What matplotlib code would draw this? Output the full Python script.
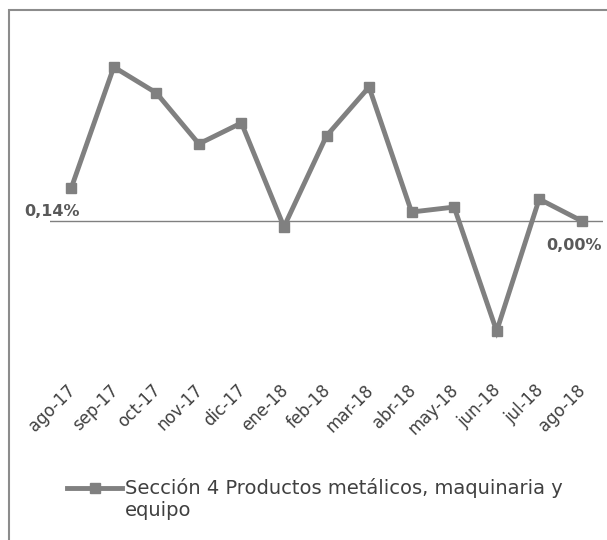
import matplotlib
matplotlib.use('Agg')
import matplotlib.pyplot as plt
from matplotlib.lines import Line2D
from matplotlib.patches import Rectangle
from matplotlib.transforms import ScaledTranslation

months = ["ago-17", "sep-17", "oct-17", "nov-17", "dic-17", "ene-18", "feb-18",
          "mar-18", "abr-18", "may-18", "jun-18", "jul-18", "ago-18"]
values = [0.14, 0.653, 0.543, 0.327, 0.416, -0.025, 0.361,
          0.568, 0.038, 0.059, -0.467, 0.093, 0.00]
series_lines = ["Sección 4 Productos metálicos, maquinaria y", "equipo"]

GREY = '#808080'
TEXT = '#404040'
plt.rcParams['font.family'] = ['DejaVu Sans']

fig = plt.figure(figsize=(6.07, 5.4), dpi=100)
ax = fig.add_axes([50 / 607, 1 - 370 / 540, 553 / 607, 340 / 540])

x = list(range(len(months)))
ax.axhline(0, color=GREY, lw=1.0, zorder=1)
ax.plot(x, values, color=GREY, lw=3.5, marker='s', markersize=6.5,
        solid_joinstyle='miter', zorder=3)

ax.set_xlim(-0.5, len(months) - 0.5)
ax.set_ylim(-0.632, 0.81)
ax.set_yticks([])
ax.set_xticks(x)
ax.set_xticklabels(months, rotation=45, ha='right', rotation_mode='anchor',
                   fontsize=12, color=TEXT)
ax.tick_params(axis='x', length=0, pad=8)
shift = ScaledTranslation(-5 / 100, 0, fig.dpi_scale_trans)
for lab in ax.get_xticklabels():
    lab.set_transform(lab.get_transform() + shift)
for s in ax.spines.values():
    s.set_visible(False)

# data labels on first and last point
ax.annotate(f"{values[0]:.2f}%".replace('.', ','), (x[0], values[0]),
            xytext=(-19, -24), textcoords='offset pixels', ha='center', va='center',
            fontsize=11.5, fontweight='bold', color='#595959')
ax.annotate(f"{values[-1]:.2f}%".replace('.', ','), (x[-1], values[-1]),
            xytext=(-8, -25), textcoords='offset pixels', ha='center', va='center',
            fontsize=11.5, fontweight='bold', color='#595959')

# legend drawn by hand so the marker sits on the first text line
ly = 1 - 488 / 540
fig.add_artist(Line2D([67 / 607, 122 / 607], [ly, ly], transform=fig.transFigure,
                      color=GREY, lw=3.5))
fig.add_artist(Line2D([95 / 607], [ly], transform=fig.transFigure, color=GREY,
                      marker='s', markersize=6.5, lw=0))
for i, line in enumerate(series_lines):
    fig.text(125 / 607, ly - i * 23 / 540, line, ha='left', va='center',
             fontsize=14, color=TEXT)

# chart border (only left/top visible in the crop)
fig.add_artist(Rectangle((9 / 607, -0.05), 1.1, 1 - 10 / 540 + 0.05,
                         transform=fig.transFigure, fill=False,
                         edgecolor='#8c8c8c', lw=1.5))

fig.savefig('out.png', dpi=100)
